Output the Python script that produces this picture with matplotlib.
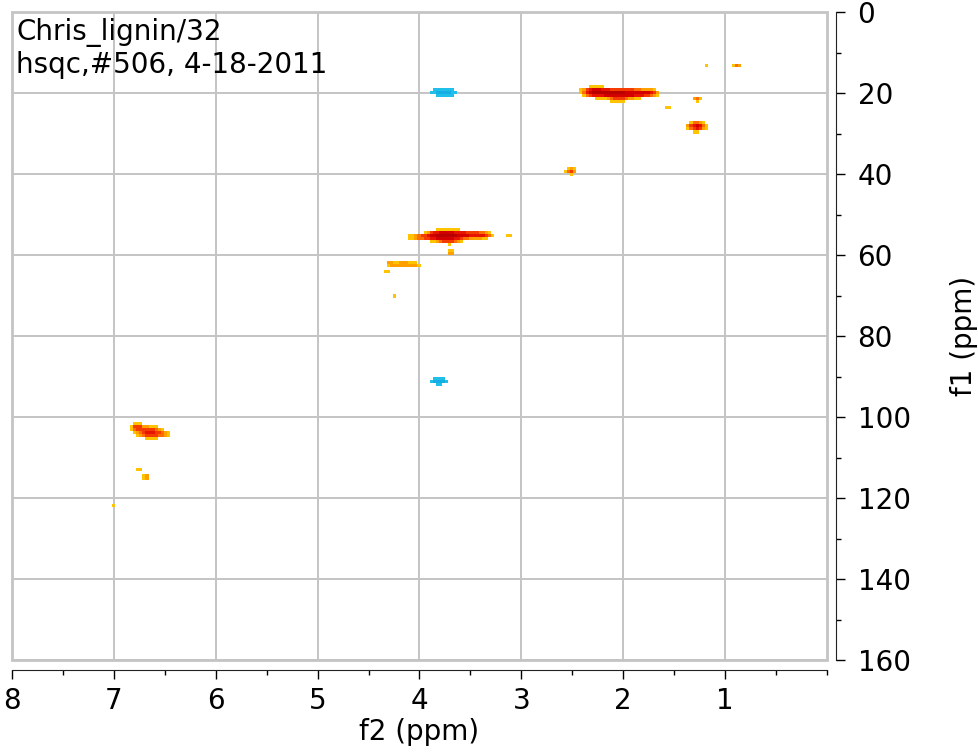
import numpy as np
import matplotlib
matplotlib.use('Agg')
import matplotlib.pyplot as plt
from matplotlib.colors import ListedColormap, BoundaryNorm
from matplotlib.patches import Rectangle
from matplotlib.ticker import MultipleLocator

# cross peaks
# centre in f2 / f1 (ppm), spread in f2 / f1 (ppm), relative height (negative = phased down)
peak_f2 = [2.27, 2.12, 1.95, 1.76, 2.05,
           1.28, 1.28, 1.56, 1.18, 0.88, 2.51,
           3.77, 3.60, 3.40, 3.98, 3.70, 3.13, 3.69,
           4.28, 4.15, 4.05, 4.20, 4.32, 4.24,
           6.65, 6.77, 6.52, 6.75, 6.68, 7.00,
           3.76, 3.81]
peak_f1 = [19.8, 20.0, 20.1, 20.0, 21.4,
           28.3, 21.5, 23.4, 13.3, 13.1, 39.3,
           55.2, 55.0, 55.0, 55.5, 56.6, 55.0, 59.5,
           62.0, 62.0, 62.5, 62.6, 64.2, 70.4,
           103.8, 102.5, 104.3, 112.6, 114.8, 122.0,
           19.8, 91.0]
peak_w2 = [0.07, 0.08, 0.09, 0.06, 0.07,
           0.05, 0.025, 0.025, 0.025, 0.03, 0.03,
           0.09, 0.11, 0.07, 0.08, 0.08, 0.025, 0.025,
           0.04, 0.04, 0.035, 0.08, 0.025, 0.025,
           0.07, 0.04, 0.05, 0.025, 0.025, 0.025,
           0.06, 0.045]
peak_w1 = [0.65, 0.6, 0.65, 0.55, 0.6,
           0.65, 0.5, 0.4, 0.35, 0.4, 0.5,
           0.7, 0.6, 0.5, 0.45, 0.5, 0.4, 0.5,
           0.5, 0.5, 0.6, 0.4, 0.4, 0.4,
           0.85, 0.6, 0.55, 0.4, 0.5, 0.4,
           0.55, 0.45]
peak_amp = [1.6, 1.2, 1.4, 0.8, 0.35,
            1.0, 0.35, 0.2, 0.15, 0.35, 0.55,
            1.8, 1.0, 0.6, 0.45, 0.3, 0.2, 0.3,
            0.24, 0.26, 0.26, 0.15, 0.17, 0.17,
            0.75, 0.5, 0.35, 0.2, 0.3, 0.15,
            -0.9, -0.8]

x_ticks = [8, 7, 6, 5, 4, 3, 2, 1]
y_ticks = [0, 20, 40, 60, 80, 100, 120, 140, 160]

# coarse acquisition grid (pixelated look)
f2_edges = np.arange(0, 8.0001, 0.03)
f1_edges = np.arange(0, 160.0001, 0.75)
f2c = (f2_edges[:-1] + f2_edges[1:]) / 2
f1c = (f1_edges[:-1] + f1_edges[1:]) / 2
F2, F1 = np.meshgrid(f2c, f1c)

spec = np.zeros_like(F2)
for c2, c1, w2, w1, a in zip(peak_f2, peak_f1, peak_w2, peak_w1, peak_amp):
    spec += a * np.exp(-0.5 * ((F2 - c2) / w2) ** 2 - 0.5 * ((F1 - c1) / w1) ** 2)
spec = np.ma.masked_where(np.abs(spec) < 0.1, spec)

cmap = ListedColormap(['#14aee4', '#20bfea', '#ffffff',
                       '#ffc400', '#ffa000', '#ff6e00', '#f53c00',
                       '#e61400', '#d20000', '#b80000'])
norm = BoundaryNorm([-5, -0.45, -0.1, 0.1, 0.2, 0.3, 0.42, 0.6, 0.9, 1.5, 9], cmap.N)

fig = plt.figure(figsize=(9.79, 7.52), dpi=100)
ax = fig.add_axes([12/979, 1 - 660/752, 815/979, 648/752])

ax.pcolormesh(f2_edges, f1_edges, spec, cmap=cmap, norm=norm,
              shading='flat', antialiased=False, zorder=3)

ax.set_xlim(8, 0)
ax.set_ylim(160, 0)

ax.set_xticks(x_ticks)
ax.set_xticklabels([str(v) for v in x_ticks])
ax.xaxis.set_minor_locator(MultipleLocator(0.5))
ax.set_yticks(y_ticks)
ax.yaxis.set_minor_locator(MultipleLocator(10))

ax.grid(True, which='major', color='#c4c4c4', lw=1.4)
ax.set_axisbelow(True)

# grey box around the plot
ax.add_patch(Rectangle((0, 0), 1, 1, transform=ax.transAxes, fill=False,
                       ec='#c4c4c4', lw=2, clip_on=False, zorder=4))

for s in ['top', 'left']:
    ax.spines[s].set_visible(False)
ax.spines['bottom'].set_position(('outward', 7.2))
ax.spines['right'].set_position(('outward', 6.5))
ax.spines['bottom'].set_color('#222222')
ax.spines['right'].set_color('#222222')

ax.yaxis.tick_right()
ax.yaxis.set_label_position('right')
ax.tick_params(which='major', direction='out', length=6.5, width=1, labelsize=20, colors='black')
ax.tick_params(which='minor', direction='out', length=3.5, width=1)
ax.tick_params(axis='x', pad=6)
ax.tick_params(axis='y', pad=9)

ax.set_xlabel('f2 (ppm)', fontsize=20, labelpad=2)
ax.set_ylabel('f1 (ppm)', fontsize=20, labelpad=28)

fig.text(16/979, 1 - 18/752, 'Chris_lignin/32', fontsize=20, va='top', ha='left')
fig.text(16/979, 1 - 51/752, 'hsqc,#506, 4-18-2011', fontsize=20, va='top', ha='left')

plt.savefig('out.png', dpi=100)
plt.close()
